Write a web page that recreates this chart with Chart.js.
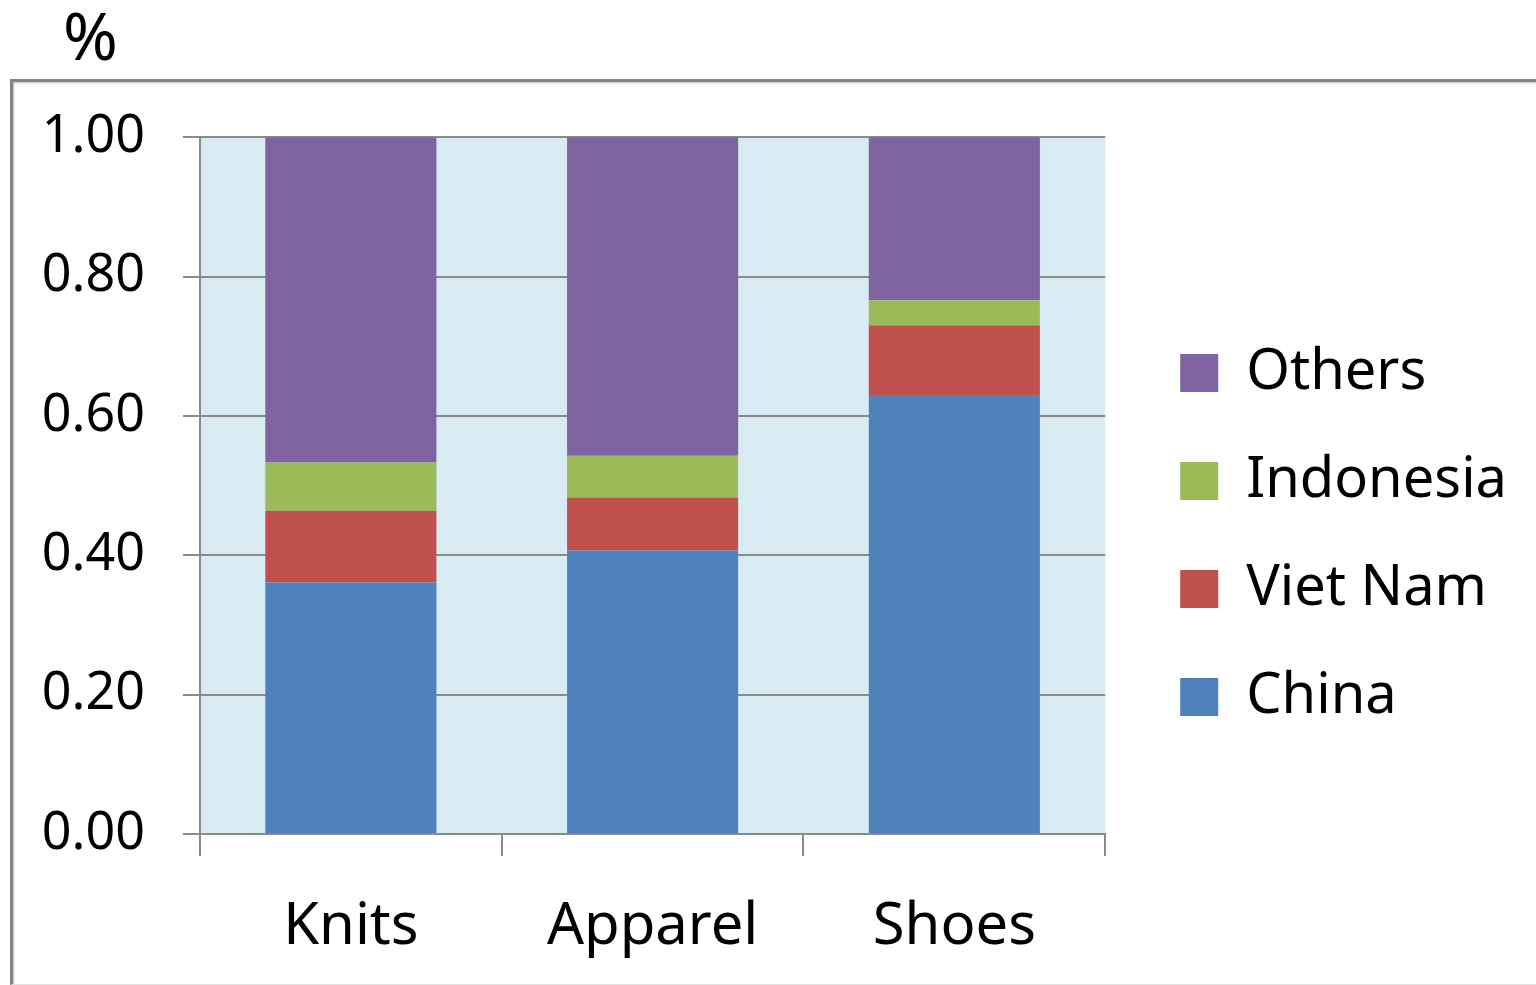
<!DOCTYPE html>
<html>
<head>
<meta charset="utf-8">
<script src="https://cdn.jsdelivr.net/npm/chart.js@4/dist/chart.umd.min.js"></script>
<style>
  html, body { margin: 0; padding: 0; background: #fff; }
  body { width: 1536px; height: 985px; position: relative; overflow: hidden; font-family: "Noto Sans", sans-serif; }
  #unit { position: absolute; left: 63px; top: -11px; font-size: 66px; color: #000; }
  #frame {
    position: absolute; left: 10px; top: 79px; width: 1540px; height: 902px;
    border-top: 3px solid #858585; border-left: 3px solid #858585; border-bottom: 1px solid #e2e2e2;
    box-shadow: 1px 1px 2px #bbb inset;
  }
  #chart { position: absolute; left: 13px; top: 68px; }
</style>
</head>
<body>
<div id="unit">%</div>
<div id="frame"></div>
<canvas id="chart" width="1523" height="914"></canvas>
<script>
const categories = ['Knits', 'Apparel', 'Shoes'];
const china = [0.361, 0.407, 0.630];
const vietNam = [0.103, 0.076, 0.100];
const indonesia = [0.069, 0.060, 0.036];
const others = [0.467, 0.457, 0.234];
const yTickStep = 0.2;

const font = '"Noto Sans", sans-serif';
const gridGray = '#8a8a8a';

// light blue plot background
const plotBg = {
  id: 'plotBg',
  beforeDraw(chart) {
    const a = chart.chartArea;
    const ctx = chart.ctx;
    ctx.save();
    ctx.fillStyle = '#d8ebf2';
    ctx.fillRect(a.left, a.top, a.right - a.left, a.bottom - a.top);
    ctx.restore();
  }
};

const ctx = document.getElementById('chart').getContext('2d');
new Chart(ctx, {
  type: 'bar',
  data: {
    labels: categories,
    datasets: [
      { label: 'China', data: china, backgroundColor: '#4f81bd' },
      { label: 'Viet Nam', data: vietNam, backgroundColor: '#c0504d' },
      { label: 'Indonesia', data: indonesia, backgroundColor: '#9bbb59' },
      { label: 'Others', data: others, backgroundColor: '#8064a2' }
    ]
  },
  options: {
    responsive: false,
    animation: false,
    // top/bottom padding also centres the legend (y-axis label padding sets the plot top)
    layout: { padding: { top: 30, bottom: 10, left: 0, right: 19 } },
    datasets: { bar: { categoryPercentage: 1, barPercentage: 0.567 } },
    scales: {
      x: {
        stacked: true,
        grid: { display: true, drawOnChartArea: false, color: gridGray, lineWidth: 2, tickLength: 22, offset: true },
        border: { display: true, color: gridGray, width: 2 },
        ticks: { color: '#000', font: { family: font, size: 58 }, padding: 37 },
        afterFit(s) { s.height = 138; }
      },
      y: {
        stacked: true,
        min: 0,
        max: 1,
        grid: { color: gridGray, lineWidth: 2, tickLength: 17 },
        border: { display: true, color: gridGray, width: 2 },
        ticks: {
          stepSize: yTickStep,
          color: '#000',
          font: { family: font, size: 52 },
          padding: 38,
          callback: v => v.toFixed(2)
        },
        afterFit(s) { s.width = 187; }
      },
      gap: {
        position: 'right',
        display: true,
        grid: { display: false },
        border: { display: false },
        ticks: { display: false },
        afterFit(s) { s.width = 23; }
      }
    },
    plugins: {
      legend: {
        position: 'right',
        reverse: true,
        maxWidth: 500,
        labels: {
          boxWidth: 38,
          boxHeight: 38,
          padding: 52,
          color: '#000',
          font: { family: font, size: 56 }
        }
      },
      tooltip: { enabled: false }
    }
  },
  plugins: [plotBg]
});
</script>
</body>
</html>
